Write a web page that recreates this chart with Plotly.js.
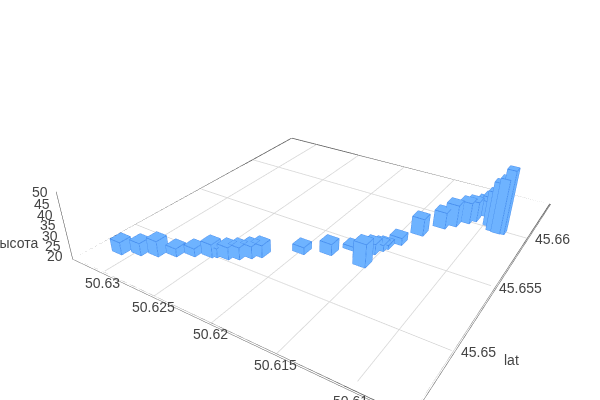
<!DOCTYPE html><html><head><meta charset="utf-8"><script src="https://cdn.plot.ly/plotly-3.0.1.min.js"></script>
<style>html,body{margin:0;background:#fff;overflow:hidden;width:600px;height:400px}</style></head><body><div id="c" style="width:600px;height:486px"></div>
<script>
var lat=[45.64792,45.64838,45.64877,45.64926,45.64975,45.65014,45.65028,45.65044,45.65073,45.65113,45.65147,45.65281,45.65347,45.65441,45.65389,45.65344,45.65471,45.65518,45.65548,45.65618,45.65759,45.65889,45.65942,45.66011,45.66052,45.66136,45.66166,45.66034,45.65992,45.65986,45.65991];
var lon=[50.63111,50.62983,50.62867,50.62756,50.62645,50.62531,50.62501,50.62415,50.62348,50.62283,50.62230,50.62000,50.61825,50.61710,50.61581,50.61543,50.61565,50.61534,50.61516,50.61459,50.61381,50.61280,50.61218,50.61149,50.61113,50.61073,50.61038,50.60970,50.60924,50.60882,50.60852];
var height=[25.3,25.3,26.8,23.2,23.2,25.7,23.7,25.2,25.2,25.2,25.2,22.7,24.8,21.2,26.7,30.5,24.3,22.3,21.3,22.8,27.7,27.4,30.1,29.7,29.2,27.1,28.2,36.6,43.3,45.9,50.4];
var footprint=[1,1,1,1,1,1,1,1,1,1,1,1,1,1,1,1,1,1,1,1,1,1,1,1,1,1,1,.7,.7,.7,.7];
var latRange=[45.64605,45.6645],lonRange=[50.60644,50.63319],zRange=[19,50.7];
var latTicks=[45.65,45.655,45.66],lonTicks=[50.61,50.615,50.62,50.625,50.63],zTicks=[20,25,30,35,40,45,50];
var hx=.00034,hy=.0005,b0=19.3,x=[],y=[],z=[],i=[],j=[],k=[],lx=[],ly=[],lz=[];
lat.forEach(function(la,n){var t=height[n],s=footprint[n],o=x.length;[[-1,-1,b0],[1,-1,b0],[1,1,b0],[-1,1,b0],[-1,-1,t],[1,-1,t],[1,1,t],[-1,1,t]].forEach(function(q){x.push(la+q[0]*hx*s);y.push(lon[n]+q[1]*hy*s);z.push(q[2]);});
[[0,1,2],[0,2,3],[4,5,6],[4,6,7],[0,1,5],[0,5,4],[1,2,6],[1,6,5],[2,3,7],[2,7,6],[3,0,4],[3,4,7]].forEach(function(q){i.push(o+q[0]);j.push(o+q[1]);k.push(o+q[2]);});
[0,1,2,3,0,4,5,6,7,4,null,1,5,null,2,6,null,3,7,null].forEach(function(q){if(q===null){lx.push(null);ly.push(null);lz.push(null);}else{lx.push(x[o+q]);ly.push(y[o+q]);lz.push(z[o+q]);}});});
var e1=.00006,zf=19.25;
var gx=[],gy=[],gz=[];
latTicks.forEach(function(t){gx.push(t,t,null);gy.push(lonRange[0]+e1,lonRange[1]-e1,null);gz.push(zf,zf,null);});
lonTicks.forEach(function(t){gx.push(latRange[0]+e1,latRange[1]-e1,null);gy.push(t,t,null);gz.push(zf,zf,null);});
var x0=latRange[0]+e1,x1=latRange[1]-e1,y0=lonRange[0]+e1,y1=lonRange[1]-e1;
var fx=[x0,x1,null,x1,x1,null,x1,x0,null,x0,x0,null],fy=[y0,y0,null,y0,y1,null,y1,y1,null,y1,y0,null],fz=[zf,zf,null,zf,zf,null,zf,zf,null,zf,zf,null];
var fnt={family:'Liberation Sans, Arial',size:14,color:'#444'};
function ax(r,ex){return Object.assign({title:{text:''},range:r,tickfont:fnt,showticklabels:false,showbackground:false,showgrid:false,showline:false,zeroline:false,ticks:'outside',ticklen:0},ex||{});}
var sa=[];
latTicks.forEach(function(t){sa.push({x:t,y:lonRange[0],z:zRange[0],text:String(t),showarrow:false,font:fnt,xshift:24,yshift:0});});
lonTicks.forEach(function(t){sa.push({x:latRange[0],y:t,z:zRange[0],text:String(t),showarrow:false,font:fnt,xshift:0,yshift:-10});});
zTicks.forEach(function(t){sa.push({x:latRange[0],y:lonRange[1],z:t,text:String(t),showarrow:false,font:fnt,xshift:-17,yshift:1});});
Plotly.newPlot('c',[{type:'scatter3d',mode:'lines',x:gx,y:gy,z:gz,line:{color:'#d6d6d6',width:1.5},hoverinfo:'skip'},{type:'scatter3d',mode:'lines',x:fx,y:fy,z:fz,line:{color:'#555',width:1.5},hoverinfo:'skip'},{type:'mesh3d',x:x,y:y,z:z,i:i,j:j,k:k,color:'#6eb3ff',flatshading:true,lighting:{ambient:1,diffuse:0,specular:0,roughness:1,fresnel:0},hoverinfo:'skip'},{type:'scatter3d',mode:'lines',x:lx,y:ly,z:lz,line:{color:'#3f86ea',width:1.5},hoverinfo:'skip'}],{
width:600,height:486,margin:{l:0,r:0,t:0,b:0},showlegend:false,paper_bgcolor:'#fff',
annotations:[{xref:'paper',yref:'paper',x:511/600,xanchor:'center',y:1-360/486,yanchor:'middle',text:'lat',showarrow:false,font:fnt},{xref:'paper',yref:'paper',x:40/600,xanchor:'right',y:1-243/486,yanchor:'middle',text:'высота',showarrow:false,font:fnt}],
scene:{annotations:sa,aspectmode:'manual',aspectratio:{x:1,y:.95,z:.195},camera:{eye:{x:-1.225,y:-.717,z:.74},center:{x:-.064,y:.06,z:-.13}},
xaxis:ax(latRange,{dtick:.005,showline:true,linecolor:'#555'}),yaxis:ax(lonRange,{dtick:.005,showline:true,linecolor:'#555'}),zaxis:ax(zRange,{dtick:5,showline:true,linecolor:'#444',ticklen:4,tickcolor:'#444'})}},{displayModeBar:false});
</script></body></html>
